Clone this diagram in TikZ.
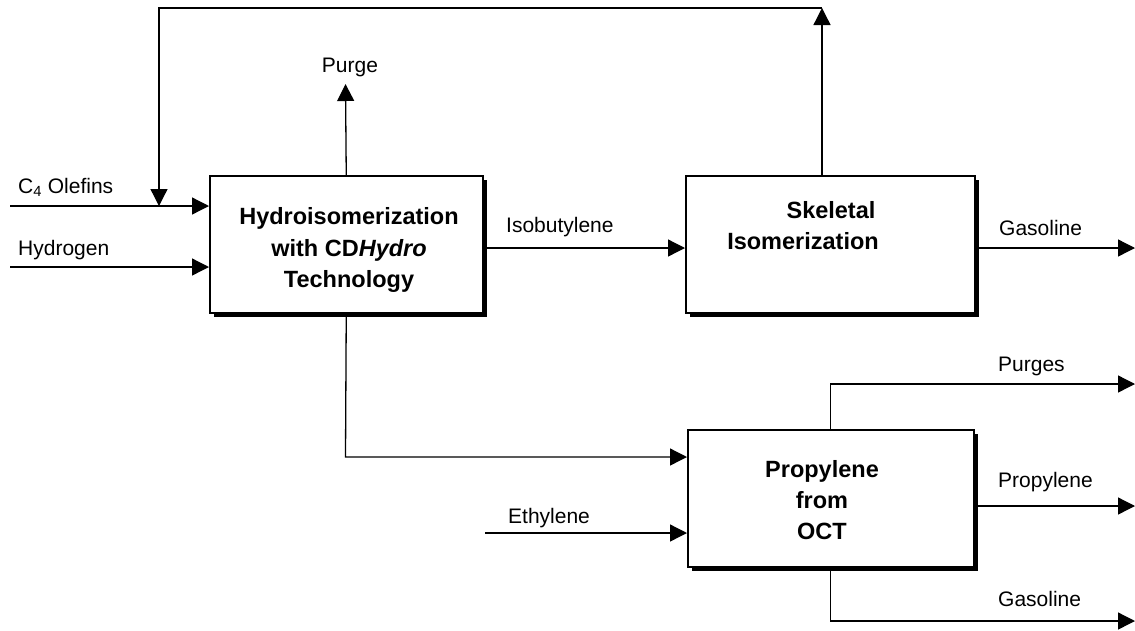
\documentclass[tikz,border=0pt]{standalone}
\usepackage{fontspec}
\setmainfont{Liberation Sans}
\usetikzlibrary{arrows.meta,shadows}
\begin{document}
\begin{tikzpicture}[x=1pt,y=-1pt,
  flow/.style={line width=1.3pt,-{Triangle[length=17pt,width=17pt]}},
  plain/.style={line width=1.3pt},
  unit/.style={draw,line width=1.5pt,fill=white,anchor=north west,inner sep=0pt,
    drop shadow={shadow xshift=4.5pt,shadow yshift=-4.5pt,fill=black,opacity=1}},
  lbl/.style={font=\fontsize{21}{24}\selectfont,anchor=base west,inner sep=0pt},
  ulbl/.style={font=\fontsize{23.5}{28}\selectfont\bfseries,anchor=base,inner sep=0pt}]
\useasboundingbox (0,0) rectangle (1135,630);
% units
\node[unit,minimum width=273pt,minimum height=137pt] (hyd) at (209,175) {};
\node[unit,minimum width=289pt,minimum height=137pt] (skel) at (685,175) {};
\node[unit,minimum width=286pt,minimum height=137pt] (oct) at (687,429) {};
% unit texts
\node[ulbl] (h1) at (349,224) {Hydroisomerization};
\node[ulbl] (h2) at (349,256) {with CD\textit{Hydro}};
\node[ulbl] (h3) at (349,287) {Technology};
\node[ulbl] (s1) at (831,218) {Skeletal};
\node[ulbl] (s2) at (803,249) {Isomerization};
\node[ulbl] (o1) at (822,477) {Propylene};
\node[ulbl] (o2) at (822,508) {from};
\node[ulbl] (o3) at (822,539) {OCT};
% stream labels
\node[lbl] (lc4) at (18,193) {C\textsubscript{4} Olefins};
\node[lbl] (lh2) at (18,255) {Hydrogen};
\node[lbl,anchor=base] (lpurge) at (350,72) {Purge};
\node[lbl] (liso) at (506,232) {Isobutylene};
\node[lbl] (lgas1) at (999,235) {Gasoline};
\node[lbl] (lpurges) at (998,371) {Purges};
\node[lbl] (lprop) at (998,487) {Propylene};
\node[lbl] (lgas2) at (998,606) {Gasoline};
\node[lbl] (leth) at (508,523) {Ethylene};
% coordinates
\coordinate (c4) at (10,206);
\coordinate (join) at (159,206);
\coordinate (h2in) at (10,267);
\coordinate (purge) at (345.5,84);
\coordinate (tl) at (159,8);
\coordinate (tr) at (822,8);
\coordinate (iso) at (480,248);
\coordinate (gas1) at (1135,248);
\coordinate (bend) at (345.5,457);
\coordinate (eth) at (485,533);
\coordinate (purges) at (1135,384);
\coordinate (prop) at (1135,506);
\coordinate (gas2) at (1135,621);
% connectors
\draw[plain] (c4) -- (join);
\draw[flow] (join) -- (join -| hyd.west);
\draw[flow] (h2in) -- (h2in -| hyd.west);
\draw[flow] (hyd.north) -- (purge);
\draw[flow] (tr |- skel.north) -- (tr);
\draw[flow] (tr) -- (tl) -- (join);
\draw[flow] (iso -| hyd.east) -- (iso -| skel.west);
\draw[flow] (gas1 -| skel.east) -- (gas1);
\draw[flow] (hyd.south) -- (bend) -- (bend -| oct.west);
\draw[flow] (eth) -- (eth -| oct.west);
\draw[flow] (oct.north) |- (purges);
\draw[flow] (prop -| oct.east) -- (prop);
\draw[flow] (oct.south) |- (gas2);
\end{tikzpicture}
\end{document}
